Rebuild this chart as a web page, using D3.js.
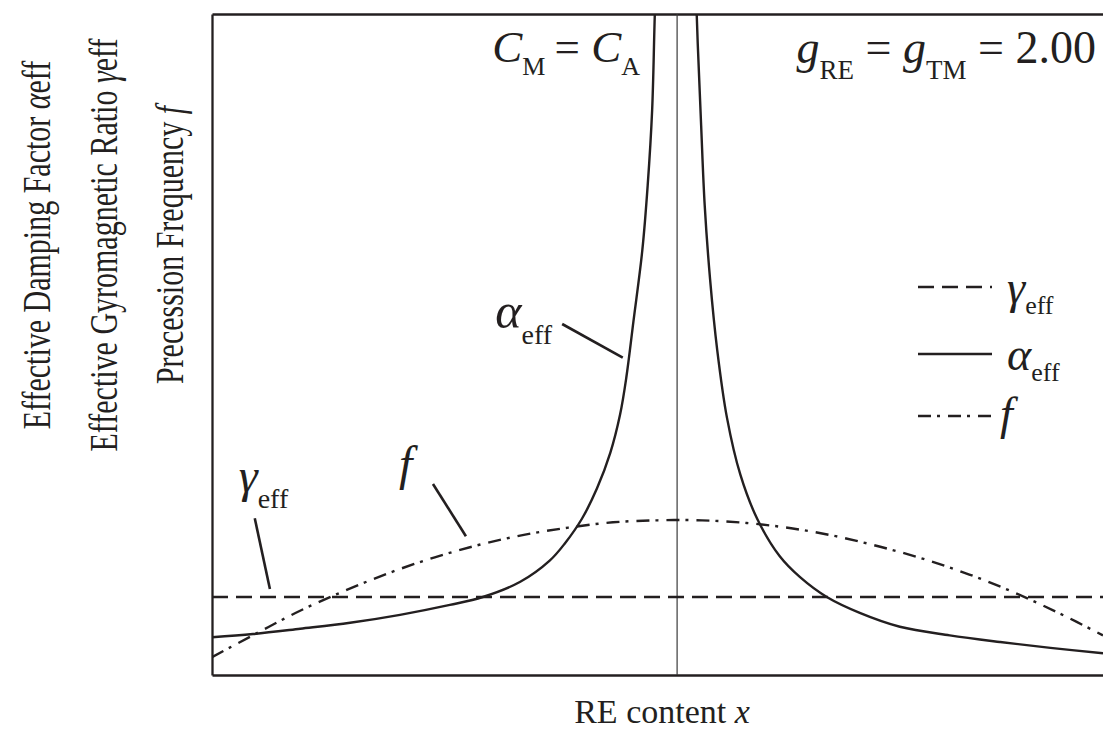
<!DOCTYPE html>
<html><head><meta charset="utf-8">
<script src="https://cdn.jsdelivr.net/npm/d3@7"></script>
<style>
body{margin:0;background:#fff}
svg{display:block}
text, tspan{font-family:"Liberation Serif","Times New Roman","DejaVu Serif",serif;fill:#231f20}
</style>
</head><body>
<svg id="chart" width="1103" height="731"></svg>
<script>
// ---------------- data (normalised units) ----------------
const xDomain = [0, 1];
const yDomain = [0, 1];
const criticalX = 0.522;            // C_M = C_A composition

const fX      = [0, 0.05, 0.10, 0.15, 0.20, 0.25, 0.30, 0.35, 0.40, 0.45, 0.50, 0.55, 0.60, 0.65, 0.70, 0.75, 0.80, 0.85, 0.90, 0.95, 1.00];
const fValues = [0.027, 0.063, 0.098, 0.128, 0.155, 0.178, 0.197, 0.212, 0.223, 0.231, 0.234, 0.234, 0.230, 0.222, 0.210, 0.194, 0.175, 0.152, 0.125, 0.094, 0.060];

const gammaX      = [0, 1];
const gammaValues = [0.118, 0.118];

const alphaLeftX      = [0.000, 0.046, 0.099, 0.155, 0.211, 0.267, 0.304, 0.346, 0.379, 0.396, 0.415, 0.432, 0.447, 0.458, 0.465, 0.473, 0.483, 0.489, 0.494, 0.497, 0.501];
const alphaLeftValues = [0.057, 0.062, 0.070, 0.079, 0.091, 0.106, 0.118, 0.141, 0.173, 0.199, 0.236, 0.282, 0.336, 0.394, 0.450, 0.535, 0.643, 0.741, 0.855, 1.000, 1.150];

const alphaRightX      = [0.541, 0.544, 0.549, 0.553, 0.559, 0.567, 0.578, 0.593, 0.612, 0.637, 0.660, 0.690, 0.727, 0.772, 0.828, 0.884, 0.941, 1.000];
const alphaRightValues = [1.180, 1.000, 0.831, 0.710, 0.599, 0.492, 0.389, 0.303, 0.236, 0.180, 0.148, 0.118, 0.094, 0.073, 0.060, 0.050, 0.041, 0.033];

const legendLabels = ["γ", "α", "f"];
const xTitle = "RE content ";
const yTitles = [
  [["Effective Damping Factor ", false], ["α", true], ["eff", false]],
  [["Effective Gyromagnetic Ratio ", false], ["γ", true], ["eff", false]],
  [["Precession Frequency ", false], ["f", true]]
];

// ---------------- layout ----------------
const W = 1103, H = 731;
const m = {left: 212, top: 14, right: 0, bottom: 56};
const iw = W - m.left - m.right, ih = H - m.top - m.bottom;
const ink = "#231f20";

const svg = d3.select("#chart");
const g = svg.append("g").attr("transform", `translate(${m.left},${m.top})`);

const x = d3.scaleLinear().domain(xDomain).range([0, iw]);
const y = d3.scaleLinear().domain(yDomain).range([ih, 0]);

svg.append("defs").append("clipPath").attr("id", "clip")
  .append("rect").attr("x", 0).attr("y", 0).attr("width", iw).attr("height", ih);

// axes (frame without ticks)
const axB = g.append("g").attr("transform", `translate(0,${ih})`).call(d3.axisBottom(x).tickValues([]).tickSizeOuter(0));
const axT = g.append("g").call(d3.axisTop(x).tickValues([]).tickSizeOuter(0));
const axL = g.append("g").call(d3.axisLeft(y).tickValues([]).tickSizeOuter(0));
[axB, axT, axL].forEach(a => a.select(".domain").attr("stroke", ink).attr("stroke-width", 2.3));

// critical composition line
g.append("line")
  .attr("x1", x(criticalX)).attr("x2", x(criticalX))
  .attr("y1", 0).attr("y2", ih)
  .attr("stroke", "#3a3a3a").attr("stroke-width", 1.2);

const plot = g.append("g").attr("clip-path", "url(#clip)");
const line = d3.line().x(d => x(d[0])).y(d => y(d[1])).curve(d3.curveCatmullRom.alpha(0.5));

const styles = {
  gamma: {dash: "16,8"},
  alpha: {dash: null},
  f:     {dash: "13,6,3,8"}
};

function drawSeries(xs, vs, st) {
  plot.append("path")
    .datum(d3.zip(xs, vs))
    .attr("d", line)
    .attr("fill", "none")
    .attr("stroke", ink)
    .attr("stroke-width", 2.4)
    .attr("stroke-dasharray", st.dash);
}
drawSeries(gammaX, gammaValues, styles.gamma);
drawSeries(fX, fValues, styles.f);
drawSeries(alphaLeftX, alphaLeftValues, styles.alpha);
drawSeries(alphaRightX, alphaRightValues, styles.alpha);

// ---------------- text helper ----------------
function richText(parent, px, py, parts, opts = {}) {
  const t = parent.append("text").attr("x", px).attr("y", py)
    .attr("text-anchor", opts.anchor || "start")
    .style("font-size", (opts.size || 44) + "px");
  let shift = 0;
  parts.forEach(p => {
    const ts = t.append("tspan").text(p.t);
    if (p.it) ts.style("font-style", "italic");
    if (p.sub) {
      ts.style("font-size", (opts.sub || 26) + "px").attr("dy", (opts.subShift || 15) - shift);
      shift = (opts.subShift || 15);
    } else if (shift) {
      ts.attr("dy", -shift); shift = 0;
    }
    if (p.dx) ts.attr("dx", p.dx);
  });
  return t;
}

// top annotations
richText(svg, 640, 62, [
  {t: "C", it: true}, {t: "M", sub: true},
  {t: " = ", dx: -2}, {t: "C", it: true}, {t: "A", sub: true}
], {anchor: "end", size: 45, sub: 26, subShift: 13});

richText(svg, 1096, 63, [
  {t: "g", it: true}, {t: "RE", sub: true},
  {t: " = ", dx: 0}, {t: "g", it: true}, {t: "TM", sub: true},
  {t: " = 2.00", dx: 0}
], {anchor: "end", size: 46, sub: 27, subShift: 16});

// in-plot labels with pointers
function pointer(x1, y1, x2, y2) {
  g.append("line").attr("x1", x(x1)).attr("y1", y(y1)).attr("x2", x(x2)).attr("y2", y(y2))
    .attr("stroke", ink).attr("stroke-width", 2.6);
}
pointer(0.048, 0.237, 0.065, 0.130);
richText(g, x(0.030), y(0.277), [{t: "γ", it: true}, {t: "eff", sub: true}], {size: 48, sub: 28, subShift: 16});

pointer(0.248, 0.289, 0.285, 0.210);
richText(g, x(0.210), y(0.295), [{t: "f", it: true}], {size: 48});

pointer(0.393, 0.531, 0.461, 0.480);
richText(g, x(0.318), y(0.525), [{t: "α", it: true}, {t: "eff", sub: true}], {size: 50, sub: 28, subShift: 16});

// legend
const legendY = [287, 354, 416];
const legendDash = [styles.gamma.dash, styles.alpha.dash, styles.f.dash];
legendLabels.forEach((lab, i) => {
  svg.append("line").attr("x1", 918).attr("x2", 992).attr("y1", legendY[i]).attr("y2", legendY[i])
    .attr("stroke", ink).attr("stroke-width", 2.4).attr("stroke-dasharray", legendDash[i]);
  const parts = lab === "f" ? [{t: lab, it: true}] : [{t: lab, it: true}, {t: "eff", sub: true}];
  richText(svg, lab === "f" ? 1000 : 1007, legendY[i] + (lab === "f" ? 13 : 16), parts, {size: 46, sub: 26, subShift: 11});
});

// axis titles
const xt = svg.append("text").attr("x", 662).attr("y", 723).attr("text-anchor", "middle").style("font-size", "34px");
xt.append("tspan").text(xTitle);
xt.append("tspan").text("x").style("font-style", "italic");

const yBase = [50, 117, 183];
yTitles.forEach((parts, i) => {
  const t = svg.append("text")
    .attr("transform", `translate(${yBase[i]},245) rotate(-90) scale(1,1.35)`)
    .attr("text-anchor", "middle").style("font-size", "30px");
  parts.forEach(([s, it]) => {
    const ts = t.append("tspan").text(s);
    if (it) ts.style("font-style", "italic");
  });
});
</script>
</body></html>
